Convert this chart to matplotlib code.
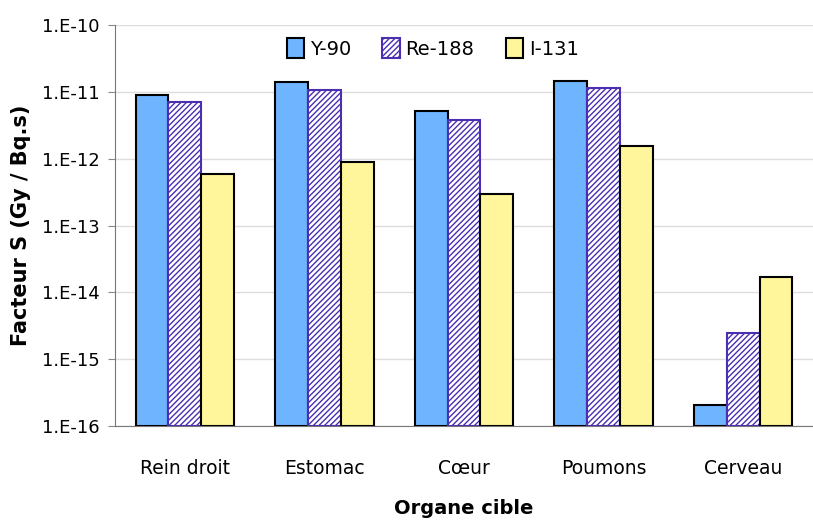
import matplotlib
matplotlib.use("Agg")
import matplotlib.pyplot as plt
import numpy as np

organs = ["Rein droit", "Estomac", "Cœur", "Poumons", "Cerveau"]
y90 = [8.9e-12, 1.4e-11, 5.2e-12, 1.45e-11, 2.05e-16]
re188 = [7.0e-12, 1.06e-11, 3.8e-12, 1.14e-11, 2.5e-15]
i131 = [5.9e-13, 8.9e-13, 2.95e-13, 1.55e-12, 1.7e-14]
ticks = [1e-16, 1e-15, 1e-14, 1e-13, 1e-12, 1e-11, 1e-10]
tick_labels = ["1.E-16", "1.E-15", "1.E-14", "1.E-13", "1.E-12", "1.E-11", "1.E-10"]

base = 1e-16
plt.rcParams["hatch.linewidth"] = 1.0
fig = plt.figure(figsize=(8.13, 5.30), dpi=100)
ax = fig.add_axes([0.1415, 0.196, 0.8585, 0.757])

x = np.arange(len(organs))
w = 0.235
ax.bar(x - w, np.array(y90) - base, w, bottom=base, color="#6EB4FF", edgecolor="black",
       linewidth=1.5, label="Y-90", zorder=3)
ax.bar(x, np.array(re188) - base, w, bottom=base, color="white", edgecolor="#4B2FB0",
       hatch="//////", linewidth=1.5, label="Re-188", zorder=3)
ax.bar(x + w, np.array(i131) - base, w, bottom=base, color="#FFF59A", edgecolor="black",
       linewidth=1.5, label="I-131", zorder=3)

ax.set_yscale("log")
ax.set_ylim(1e-16, 1e-10)
ax.set_xlim(-0.5, 4.5)
ax.set_yticks(ticks)
ax.set_yticklabels(tick_labels, fontsize=13)
ax.minorticks_off()
ax.set_xticks(x)
ax.set_xticklabels(organs, fontsize=13.5)
ax.tick_params(axis="x", length=0, pad=24)
ax.tick_params(axis="y", length=5, color="#888888", pad=6)
ax.grid(axis="y", color="#DDDDDD", linewidth=1, zorder=0)
for s in ["top", "right"]:
    ax.spines[s].set_visible(False)
ax.spines["left"].set_color("#777777")
ax.spines["bottom"].set_color("#777777")

ax.set_ylabel("Facteur S (Gy / Bq.s)", fontsize=15, fontweight="bold", labelpad=8)
ax.set_xlabel("Organe cible", fontsize=14, fontweight="bold", labelpad=15)

ax.legend(loc="upper center", bbox_to_anchor=(0.455, 1.01), ncol=3, frameon=False,
          fontsize=14, handlelength=0.9, handleheight=1.2, columnspacing=1.6, handletextpad=0.3)

fig.savefig("out.png", dpi=100)
